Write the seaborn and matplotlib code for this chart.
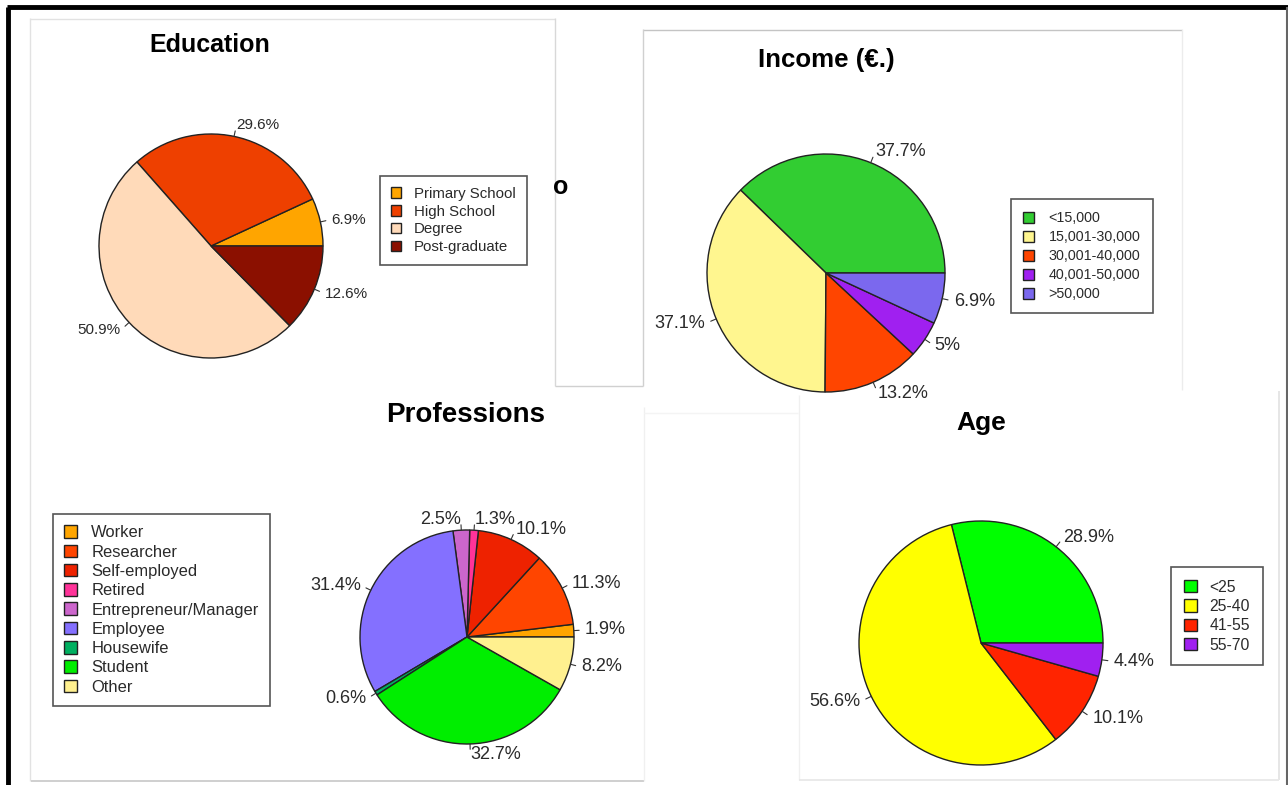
import numpy as np
import matplotlib
matplotlib.use("Agg")
import matplotlib.pyplot as plt
import seaborn as sns
from matplotlib.patches import Rectangle

# ---------------- data ----------------
edu_labels = ["Primary School", "High School", "Degree", "Post-graduate"]
edu_values = [6.9, 29.6, 50.9, 12.6]
edu_colors = ["#FFA500", "#EE4000", "#FFDAB9", "#8B1000"]

inc_labels = ["<15,000", "15,001-30,000", "30,001-40,000", "40,001-50,000", ">50,000"]
inc_values = [37.7, 37.1, 13.2, 5.0, 6.9]
inc_colors = ["#32CD32", "#FFF68F", "#FF4500", "#A020F0", "#7B68EE"]

prof_labels = ["Worker", "Researcher", "Self-employed", "Retired", "Entrepreneur/Manager",
               "Employee", "Housewife", "Student", "Other"]
prof_values = [1.9, 11.3, 10.1, 1.3, 2.5, 31.4, 0.6, 32.7, 8.2]
prof_colors = ["#FFA500", "#FF4500", "#EE2200", "#FF3399", "#CC66CC",
               "#8470FF", "#00B060", "#00EE00", "#FFF08F"]

age_labels = ["<25", "25-40", "41-55", "55-70"]
age_values = [28.9, 56.6, 10.1, 4.4]
age_colors = ["#00FF00", "#FFFF00", "#FF2400", "#A020F0"]

# ---------------- style ----------------
sns.set_theme(style="white")
plt.rcParams["font.family"] = ["Liberation Sans", "DejaVu Sans"]

W, H = 1288, 785
fig = plt.figure(figsize=(W / 100, H / 100), dpi=100)
fig.patch.set_facecolor("white")

# overlay axes in pixel coordinates for panel frames
ov = fig.add_axes([0, 0, 1, 1], zorder=0)
ov.set_xlim(0, W)
ov.set_ylim(H, 0)
ov.axis("off")


def seg(x0, y0, x1, y1, c="#dddddd", lw=1.0):
    ov.plot([x0, x1], [y0, y1], color=c, lw=lw, solid_capstyle="butt")


# outer frame
seg(7, 7, W, 7, c="black", lw=3.5)
seg(8.5, 7, 8.5, H, c="black", lw=3.5)
seg(1287, 7, 1287, H, c="#666666", lw=1.5)
# education panel
seg(30, 18.5, 555, 18.5, c="#e2e2e2")
seg(30.5, 18, 30.5, 781, c="#e2e2e2")
seg(555, 18, 555, 386, c="#d8d8d8")
# hidden panel
seg(555, 386, 643, 386, c="#d0d0d0")
# income panel
seg(643, 29.5, 1182, 29.5, c="#c4c4c4")
seg(643, 29, 643, 386, c="#d0d0d0")
seg(1182, 29, 1182, 390, c="#ececec")
# professions panel
seg(31, 781, 644, 781, c="#cccccc", lw=1.3)
seg(644, 407, 644, 781, c="#f0f0f0")
seg(644, 413, 798, 413, c="#f4f4f4")
# age panel
seg(799, 395, 799, 780, c="#f0f0f0")
seg(1279, 391, 1279, 780, c="#e4e4e4", lw=1.3)
seg(799, 780, 1279, 780, c="#e8e8e8", lw=1.3)

# clipped leftover title letter
clip = Rectangle((555.5, 150), 80, 80, transform=ov.transData)
t = ov.text(561, 187, "o", fontsize=18, fontweight="bold", ha="center", va="center",
            color="black")
t.set_clip_path(clip)


def fx(x):
    return x / W


def fy(y):
    return 1 - y / H


def pie_panel(values, colors, labels, cx, cy, r, pct_fs, title, tx, ty, title_fs,
              leg_xy, leg_fs, leg_kw):
    L = 1.6
    ax = fig.add_axes([fx(cx - L * r), fy(cy + L * r), 2 * L * r / W, 2 * L * r / H], zorder=2)
    ax.patch.set_alpha(0)
    pct = [f"{v:g}%" for v in values]
    wedges, texts = ax.pie(values, colors=colors, labels=pct, startangle=0,
                           counterclock=True, radius=1, labeldistance=1.1,
                           wedgeprops=dict(edgecolor="#222222", linewidth=1.0),
                           textprops=dict(fontsize=pct_fs, color="#2a2a2a"))
    for w in wedges:
        th = np.deg2rad((w.theta1 + w.theta2) / 2)
        ax.plot([np.cos(th), 1.05 * np.cos(th)], [np.sin(th), 1.05 * np.sin(th)],
                color="#333333", lw=0.8)
    ax.set_xlim(-L, L)
    ax.set_ylim(-L, L)
    ax.set_aspect("equal")
    ax.axis("off")
    fig.text(fx(tx), fy(ty), title, fontsize=title_fs, fontweight="bold",
             ha="center", va="center", color="black")
    leg = ax.legend(wedges, labels, loc="upper left",
                    bbox_to_anchor=(fx(leg_xy[0]), fy(leg_xy[1])),
                    bbox_transform=fig.transFigure, borderaxespad=0,
                    fancybox=False, framealpha=1, edgecolor="#555555",
                    prop=dict(size=leg_fs), labelcolor="#2a2a2a", **leg_kw)
    leg.get_frame().set_linewidth(1.2)
    return ax


pie_panel(edu_values, edu_colors, edu_labels, 211, 246, 112, 11.0,
          "Education", 210, 45, 18, (380, 176), 10.8,
          dict(borderpad=0.72, labelspacing=0.25, handlelength=0.7, handleheight=0.7,
               handletextpad=0.85))

pie_panel(inc_values, inc_colors, inc_labels, 826, 273, 119, 13.0,
          "Income (€.)", 826, 60, 18.6, (1011, 199), 10.3,
          dict(borderpad=0.85, labelspacing=0.35, handlelength=0.77, handleheight=0.77,
               handletextpad=1.0))

pie_panel(prof_values, prof_colors, prof_labels, 467, 637, 107, 13.0,
          "Professions", 466, 415, 20, (53, 514), 11.9,
          dict(borderpad=0.68, labelspacing=0.26, handlelength=0.79, handleheight=0.79,
               handletextpad=0.85))

pie_panel(age_values, age_colors, age_labels, 981, 643, 122, 13.0,
          "Age", 981, 423, 19, (1171, 567), 11.3,
          dict(borderpad=0.8, labelspacing=0.28, handlelength=0.83, handleheight=0.83,
               handletextpad=0.83))

fig.savefig("out.png", dpi=100, facecolor="white")
